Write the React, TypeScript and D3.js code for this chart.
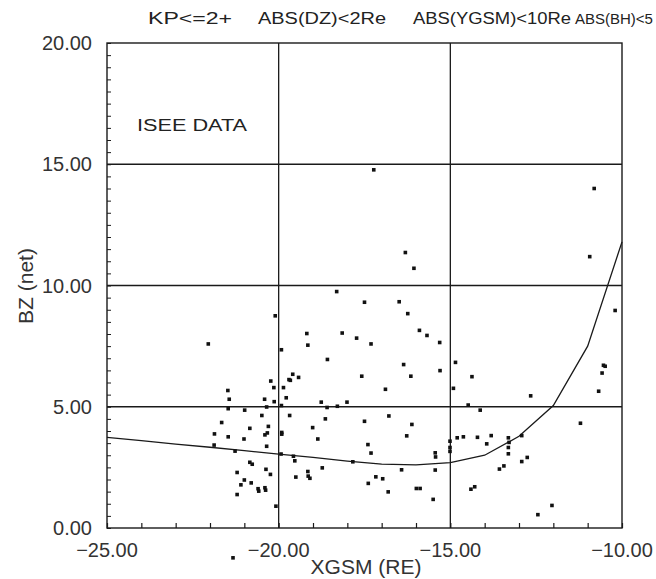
import React, { useRef, useEffect } from "react";
import * as d3 from "d3";

// scatter points: [XGSM, BZ]
const pointX = [
  -22.05, -20.1, -17.23, -16.31, -16.06, -18.31, -17.5, -16.49, -16.24, -19.18,
  -18.15, -17.73, -17.31, -15.9, -15.68, -15.31, -19.92, -19.15, -18.58, -16.36,
  -15.3, -19.59, -19.7, -19.66, -19.42, -17.58, -16.15, -14.85, -14.37, -19.86,
  -16.89, -14.91, -19.78, -19.92, -18.76, -18.59, -18.29, -18.01, -19.68, -18.64,
  -17.5, -19.01, -19.91, -19.91, -18.86, -17.4, -14.48, -16.79, -16.12, -16.27,
  -15.01, -14.8, -14.62, -15.01, -15.01, -19.57, -19.53, -19.5, -19.15, -19.14,
  -19.09, -18.73, -17.84, -17.31, -17.39, -17.17, -16.97, -16.81, -16.42, -15.99,
  -15.88, -15.5, -15.44, -15.43, -15.44, -14.13, -12.66, -14.21, -13.81, -13.94,
  -13.31, -13.29, -13.31, -13.31, -12.92, -12.76, -12.92, -13.57, -13.44, -14.4,
  -14.29, -12.04, -12.45, -10.81, -10.94, -10.2, -10.54, -10.49, -10.58, -10.68,
  -11.21, -21.48, -21.44, -21.47, -20.99, -20.23, -20.14, -20.41, -20.35, -20.13,
  -21.66, -21.87, -21.47, -20.84, -20.49, -20.3, -20.33, -20.4, -21.01, -20.35,
  -21.88, -21.27, -20.84, -20.77, -21.21, -20.37, -20.24, -21.1, -21.0, -20.8,
  -20.6, -20.58, -20.4, -20.38, -21.21, -20.08, -19.93, -21.33,
];
const pointY = [
  7.59, 8.75, 14.77, 11.36, 10.71, 9.75, 9.31, 9.33, 8.84, 8.02,
  8.04, 7.83, 7.59, 8.15, 7.94, 7.65, 7.35, 7.54, 6.95, 6.74,
  6.49, 6.34, 6.12, 6.09, 6.21, 6.26, 6.26, 6.83, 6.24, 5.79,
  5.72, 5.76, 5.37, 5.05, 5.19, 4.97, 5.02, 5.19, 4.64, 4.5,
  4.4, 4.14, 3.94, 3.87, 3.67, 3.44, 5.07, 4.62, 4.27, 3.8,
  3.58, 3.72, 3.76, 3.32, 3.16, 2.96, 2.77, 2.1, 2.33, 2.14,
  2.05, 2.48, 2.73, 3.09, 1.84, 2.11, 2.03, 1.49, 2.4, 1.63,
  1.63, 1.18, 3.1, 2.93, 2.39, 4.86, 5.45, 3.74, 3.81, 3.47,
  3.72, 3.53, 3.32, 3.06, 3.81, 2.91, 2.74, 2.43, 2.56, 1.6,
  1.7, 0.93, 0.55, 14.0, 11.19, 8.97, 6.71, 6.67, 6.39, 5.64,
  4.32, 5.67, 5.31, 4.92, 4.86, 6.06, 5.79, 5.31, 4.99, 5.21,
  4.35, 3.88, 3.76, 4.11, 4.64, 4.19, 3.92, 3.84, 3.67, 3.37,
  3.42, 3.17, 2.71, 2.63, 2.29, 2.42, 2.21, 1.78, 1.98, 1.86,
  1.62, 1.52, 1.66, 1.56, 1.38, 0.9, 3.05, -1.23,
];

// fitted curve
const curveX = [-25, -24, -23, -22, -21, -20, -19, -18, -17, -16, -15, -14, -13, -12, -11, -10];
const curveY = [3.74, 3.6, 3.46, 3.33, 3.19, 3.05, 2.91, 2.76, 2.63, 2.6, 2.7, 3.0, 3.78, 5.05, 7.5, 11.8];

const xTicks = [-25, -20, -15, -10];
const yTicks = [0, 5, 10, 15, 20];
const titleParts = ["KP<=2+", "ABS(DZ)<2Re", "ABS(YGSM)<10Re", "ABS(BH)<5"];

const App = () => {
  const ref = useRef(null);
  const width = 656;
  const height = 579;

  useEffect(() => {
    const svg = d3.select(ref.current);
    svg.selectAll("*").remove();

    const x_scale = d3.scaleLinear().domain([-25, -10]).range([107, 622]);
    const y_scale = d3.scaleLinear().domain([0, 20]).range([528, 43]);
    const font = "'Liberation Sans', Arial, sans-serif";
    const ink = "#1a1a1a";

    svg.append("rect").attr("width", width).attr("height", height).attr("fill", "#fff");

    // grid lines at the labelled values
    const grid = svg.append("g").attr("stroke", ink).attr("stroke-width", 1.3);
    grid.selectAll(".gx")
      .data(xTicks.slice(1, -1))
      .join("line")
      .attr("x1", d => x_scale(d)).attr("x2", d => x_scale(d))
      .attr("y1", y_scale(0)).attr("y2", y_scale(20));
    grid.selectAll(".gy")
      .data(yTicks.slice(1, -1))
      .join("line")
      .attr("class", "gy")
      .attr("x1", x_scale(-25)).attr("x2", x_scale(-10))
      .attr("y1", d => y_scale(d)).attr("y2", d => y_scale(d));

    // frame
    svg.append("rect")
      .attr("x", x_scale(-25)).attr("y", y_scale(20))
      .attr("width", x_scale(-10) - x_scale(-25))
      .attr("height", y_scale(0) - y_scale(20))
      .attr("fill", "none").attr("stroke", ink).attr("stroke-width", 1.4);

    // minor ticks, inward
    const bottom = d3.axisBottom(x_scale).ticks(15).tickSizeInner(-5).tickSizeOuter(0).tickFormat(() => "");
    svg.append("g").attr("transform", `translate(0, ${y_scale(0)})`).call(bottom)
      .call(g => g.select(".domain").remove())
      .selectAll("line").attr("stroke", ink).attr("stroke-width", 1.2);
    const left = d3.axisLeft(y_scale).ticks(40).tickSizeInner(-4).tickSizeOuter(0).tickFormat(() => "");
    svg.append("g").attr("transform", `translate(${x_scale(-25)}, 0)`).call(left)
      .call(g => g.select(".domain").remove())
      .selectAll("line").attr("stroke", ink).attr("stroke-width", 1);

    // tick labels
    svg.append("g").selectAll("text")
      .data(xTicks).join("text")
      .attr("x", d => x_scale(d)).attr("y", 557)
      .attr("text-anchor", "middle")
      .attr("font-family", font).attr("font-size", 20).attr("fill", "#333")
      .text(d => "\u2212" + Math.abs(d).toFixed(2));
    svg.append("g").selectAll("text")
      .data(yTicks).join("text")
      .attr("x", 92).attr("y", d => y_scale(d) + 7)
      .attr("text-anchor", "end")
      .attr("font-family", font).attr("font-size", 20).attr("fill", "#333")
      .text(d => d.toFixed(2));

    // axis titles
    svg.append("text")
      .attr("x", 366).attr("y", 574).attr("text-anchor", "middle")
      .attr("font-family", font).attr("font-size", 21).attr("fill", "#333")
      .text("XGSM (RE)");
    svg.append("text")
      .attr("transform", "translate(33, 286) rotate(-90)").attr("text-anchor", "middle")
      .attr("font-family", font).attr("font-size", 21).attr("fill", "#333")
      .text("BZ (net)");

    // top title
    const titleX = [148, 258, 413, 575];
    const titleW = [84, 128, 158, 0];
    const tg = svg.append("g").attr("font-family", font).attr("fill", "#222");
    titleParts.forEach((t, i) => {
      const el = tg.append("text").attr("x", titleX[i]).attr("y", 24).text(t);
      if (titleW[i] > 0) {
        el.attr("font-size", 16).attr("textLength", titleW[i]).attr("lengthAdjust", "spacingAndGlyphs");
      } else {
        el.attr("font-size", 15);
      }
    });

    svg.append("text")
      .attr("x", 137).attr("y", 131)
      .attr("font-family", font).attr("font-size", 16).attr("fill", "#222")
      .attr("textLength", 110).attr("lengthAdjust", "spacingAndGlyphs")
      .text("ISEE DATA");

    // fitted curve
    svg.append("path")
      .datum(curveX.map((v, i) => [v, curveY[i]]))
      .attr("fill", "none").attr("stroke", ink).attr("stroke-width", 1.3)
      .attr("d", d3.line().x(d => x_scale(d[0])).y(d => y_scale(d[1])));

    // data points
    svg.append("g").selectAll("rect")
      .data(pointX.map((v, i) => [v, pointY[i]]))
      .join("rect")
      .attr("x", d => x_scale(d[0]) - 1.8).attr("y", d => y_scale(d[1]) - 1.8)
      .attr("width", 3.6).attr("height", 3.6)
      .attr("fill", "#111");
  });

  return (
    <svg ref={ref} width={width} height={height}
      style={{ position: "absolute", left: 0, top: 0, display: "block" }}>
    </svg>
  );
};

export default App;
